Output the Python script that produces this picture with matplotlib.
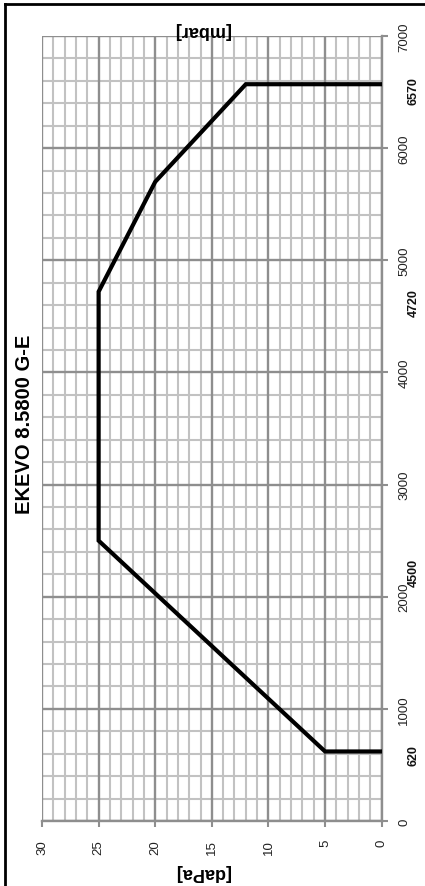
import matplotlib
matplotlib.use("Agg")
import matplotlib.pyplot as plt
import matplotlib.transforms as mtransforms
from matplotlib.lines import Line2D
import numpy as np

plt.rcParams['font.family'] = ['Liberation Sans', 'DejaVu Sans']

# Data (curve: daPa vs mbar)
mbar = [620, 620, 2500, 4720, 5700, 6570, 6570]
dapa = [0, 5, 25, 25, 20, 12, 0]

title = "EKEVO 8.5800 G-E"
mbar_ticks = [0, 1000, 2000, 3000, 4000, 5000, 6000, 7000]
dapa_ticks = [0, 5, 10, 15, 20, 25, 30]
mark_labels = ["620", "4500", "4720", "6570"]
mark_pos = [590, 2220, 4630, 6520]

fig = plt.figure(figsize=(4.25, 8.87), dpi=100)
ax = fig.add_axes([42/425, 1-822/887, 339.7/425, 785/887])

minor_c = '#c2c2c2'
major_c = '#8e8e8e'

# grid (drawn through axes scale)
for v in np.arange(0, 31, 1):
    if v % 5:
        ax.axvline(v, color=minor_c, lw=1.5, zorder=1)
for v in np.arange(0, 7001, 200):
    if v % 1000:
        ax.axhline(v, color=minor_c, lw=1.5, zorder=1)
for v in dapa_ticks:
    ax.axvline(v, color=major_c, lw=1.7, zorder=2)
for v in mbar_ticks:
    ax.axhline(v, color=major_c, lw=1.7, zorder=2)

ax.plot(dapa, mbar, color='black', lw=3.0, solid_joinstyle='miter', zorder=5)

ax.set_xlim(30, 0)
ax.set_ylim(0, 7000)
ax.set_xticks(dapa_ticks)
ax.set_yticks(mbar_ticks)
ax.set_xticklabels([str(t) for t in dapa_ticks], rotation=90)
ax.set_yticklabels([str(t) for t in mbar_ticks], rotation=90, va='center')
ax.yaxis.tick_right()
for s in ['left', 'top']:
    ax.spines[s].set_visible(False)
for s in ['right', 'bottom']:
    ax.spines[s].set_color(major_c)
    ax.spines[s].set_linewidth(1.7)
ax.tick_params(axis='both', colors=major_c, length=4, width=1.5, labelcolor='#222222', labelsize=9.5)
ax.tick_params(axis='x', pad=9)
ax.tick_params(axis='y', pad=8)
ax.set_facecolor('white')

trans = mtransforms.blended_transform_factory(ax.transAxes, ax.transData)
for lab, p in zip(mark_labels, mark_pos):
    ax.text(1.094, p, lab, transform=trans, rotation=90, ha='center', va='center',
            fontsize=9, fontweight='bold', color='#111111', clip_on=False)

fig.text(25/425, 1-424/887, title, rotation=90, ha='center', va='center',
         fontsize=14.5, fontweight='bold')
fig.text(202/425, 1-31/887, "[mbar]", rotation=180, ha='center', va='center',
         fontsize=13, fontweight='bold')
fig.text(202/425, 1-873/887, "[daPa]", rotation=180, ha='center', va='center',
         fontsize=13, fontweight='bold')

# outer frame (top and left edges)
fig.add_artist(Line2D([5.3/425, 1], [1-4.7/887, 1-4.7/887], transform=fig.transFigure,
                      color='black', lw=2.0))
fig.add_artist(Line2D([5.3/425, 5.3/425], [0, 1-4.7/887], transform=fig.transFigure,
                      color='black', lw=2.0))

fig.savefig('out.png', dpi=100)
